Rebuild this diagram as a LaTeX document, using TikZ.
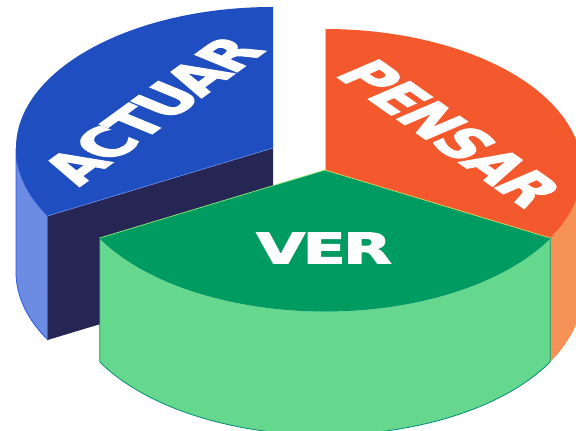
\documentclass[tikz,border=0pt]{standalone}
\usepackage{fontspec}
\setmainfont{DejaVu Sans}
\newfontfamily\heavyfont{DejaVu Sans Bold}[FakeBold=2.6,LetterSpace=-4]
\definecolor{bluetop}{RGB}{30,78,192}
\definecolor{bluewall}{RGB}{108,140,228}
\definecolor{bluecut}{RGB}{38,38,84}
\definecolor{bluerim}{RGB}{40,90,220}
\definecolor{ortop}{RGB}{244,88,45}
\definecolor{orwall}{RGB}{246,146,86}
\definecolor{orrim}{RGB}{250,200,90}
\definecolor{grtop}{RGB}{0,155,96}
\definecolor{grwall}{RGB}{102,216,142}
\definecolor{grrim}{RGB}{0,140,120}
\definecolor{grlight}{RGB}{150,235,120}
\begin{document}
\begin{tikzpicture}[x=1pt,y=1pt,
  ell/.style={x radius=257,y radius=141},
  lbl/.style={text=white,inner sep=0pt,font=\heavyfont\fontsize{72}{72}\selectfont}]
\useasboundingbox (0,0) rectangle (576,431);
\clip (0,0) rectangle (576,431);
% centres
\coordinate (B) at (273,283);
\coordinate (Bd) at (273,159);
\coordinate (C) at (325,261);
\coordinate (Cd) at (325,137);
\coordinate (Btop) at ([shift={(90:257 and 141)}]B);
\coordinate (Bleft) at ([shift={(180:257 and 141)}]B);
\coordinate (Bcorner) at ([shift={(208.8:257 and 141)}]B);
\coordinate (Ctop) at ([shift={(90:257 and 141)}]C);
\coordinate (Cleft) at ([shift={(208.8:257 and 141)}]C);
\coordinate (Cright) at ([shift={(-28.8:257 and 141)}]C);
% ---- blue slice (ACTUAR) ----
\fill[bluewall,draw=bluerim,line width=0.8pt] (Bleft) arc[start angle=180,end angle=208.8,ell] -- ++(0,-124)
  arc[start angle=208.8,end angle=180,ell] -- cycle;
\fill[bluecut] (B) -- (Bcorner) -- ++(0,-124) -- (Bd) -- cycle;
\fill[bluetop] (B) -- (Btop) arc[start angle=90,end angle=208.8,ell] -- cycle;
\draw[bluewall,line width=0.6pt] (Bcorner) -- (B);
% ---- orange slice (PENSAR) ----
\fill[orwall] (Cright) arc[start angle=-28.8,end angle=0,ell] -- ++(0,-124)
  arc[start angle=0,end angle=-28.8,ell] -- cycle;
\fill[ortop] (C) -- (Cright) arc[start angle=-28.8,end angle=90,ell] -- cycle;
\draw[orrim,line width=0.6pt] (C) -- (Ctop);
\draw[orrim,line width=0.8pt] (Cright) -- ++(0,-124);
% ---- green slice (VER) ----
\fill[grwall,draw=grrim,line width=0.8pt] (Cleft) arc[start angle=208.8,end angle=331.2,ell] -- ++(0,-124)
  arc[start angle=331.2,end angle=208.8,ell] -- cycle;
\fill[grtop] (C) -- (Cleft) arc[start angle=208.8,end angle=331.2,ell] -- cycle;
\draw[grlight,line width=0.7pt] (Cleft) -- (C);
\draw[orrim!70!grlight,line width=0.7pt] (C) -- (Cright);
% ---- labels ----
\begin{scope}[shift={(152,321)},yscale=0.549]
  \node[lbl,rotate=53,transform shape] (actuar) {ACTUAR};
\end{scope}
\begin{scope}[shift={(450,298)},yscale=0.549]
  \node[lbl,rotate=-52,transform shape] (pensar) {PENSAR};
\end{scope}
\node[lbl,font=\heavyfont\fontsize{42}{42}\selectfont,xscale=1.5] (ver) at (324,183) {VER};
\end{tikzpicture}
\end{document}
